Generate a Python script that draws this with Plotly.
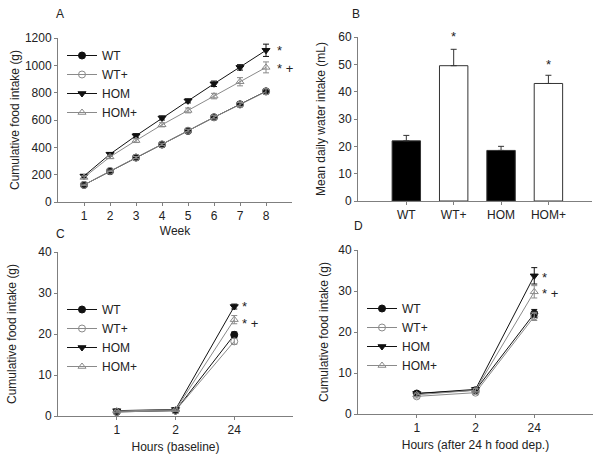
import plotly.graph_objects as go

# ---------------- data ----------------
weeks = [1, 2, 3, 4, 5, 6, 7, 8]
a_wt = [125, 225, 325, 420, 520, 620, 715, 810]
a_wtp = [125, 228, 325, 422, 522, 620, 713, 808]
a_hom = [190, 350, 485, 615, 740, 865, 985, 1110]
a_homp = [180, 330, 450, 565, 670, 775, 880, 985]
a_wt_err = [5, 5, 8, 8, 10, 12, 15, 20]
a_wtp_err = [5, 5, 8, 8, 10, 12, 15, 20]
a_hom_err = [10, 12, 15, 15, 15, 20, 20, 45]
a_homp_err = [10, 12, 15, 15, 18, 20, 30, 40]

groups = ["WT", "WT+", "HOM", "HOM+"]
b_water = [22, 49.5, 18.5, 43]
b_err = [2, 6, 1.5, 3]

hours = ["1", "2", "24"]
c_wt = [1.0, 1.3, 19.8]
c_wtp = [1.0, 1.3, 18.2]
c_hom = [1.3, 1.6, 26.7]
c_homp = [1.2, 1.5, 23.5]
c_wt_err = [0.2, 0.2, 0.7]
c_wtp_err = [0.2, 0.2, 0.7]
c_hom_err = [0.2, 0.2, 0.6]
c_homp_err = [0.2, 0.2, 1.0]

d_wt = [5.0, 5.8, 24.5]
d_wtp = [4.3, 5.2, 23.8]
d_hom = [5.0, 6.0, 33.7]
d_homp = [4.7, 5.8, 29.8]
d_wt_err = [0.4, 0.4, 1.0]
d_wtp_err = [0.4, 0.4, 1.0]
d_hom_err = [0.4, 0.4, 2.0]
d_homp_err = [0.4, 0.4, 1.5]

FONT = "Arial, Liberation Sans, sans-serif"
BLACK = "#111111"
GRAY = "#8a8a8a"
TXT = "#222222"
W, H = 602, 461

series_style = {
    "WT": dict(color=BLACK, symbol="circle", fill=BLACK),
    "WT+": dict(color=GRAY, symbol="circle-open", fill=GRAY),
    "HOM": dict(color=BLACK, symbol="triangle-down", fill=BLACK),
    "HOM+": dict(color=GRAY, symbol="triangle-up-open", fill=GRAY),
}

fig = go.Figure()


def add_series(x, y, err, name, xa, ya, legend):
    st = series_style[name]
    fig.add_trace(go.Scatter(
        x=x, y=y, name=name, mode="lines+markers",
        xaxis=xa, yaxis=ya, legend=legend,
        line=dict(color=st["color"], width=1),
        marker=dict(symbol=st["symbol"], size=7, color=st["fill"],
                    line=dict(color=st["color"], width=1)),
        error_y=dict(type="data", array=err, visible=True,
                     color=st["color"], thickness=1, width=3),
        cliponaxis=False,
    ))


# Panel A
for nm, ys, es in [("WT", a_wt, a_wt_err), ("WT+", a_wtp, a_wtp_err),
                   ("HOM", a_hom, a_hom_err), ("HOM+", a_homp, a_homp_err)]:
    add_series(weeks, ys, es, nm, "x", "y", "legend")

# Panel B
fig.add_trace(go.Bar(
    x=groups, y=b_water, xaxis="x2", yaxis="y2", showlegend=False,
    marker=dict(color=["black", "white", "black", "white"],
                line=dict(color="#333333", width=1)),
    width=0.6,
    error_y=dict(type="data", array=b_err, arrayminus=[0, 0, 0, 0],
                 symmetric=False, visible=True, color="#333333",
                 thickness=1, width=3),
))

# Panel C
xc = [1, 2, 3]
for nm, ys, es in [("WT", c_wt, c_wt_err), ("WT+", c_wtp, c_wtp_err),
                   ("HOM", c_hom, c_hom_err), ("HOM+", c_homp, c_homp_err)]:
    add_series(xc, ys, es, nm, "x3", "y3", "legend2")

# Panel D
for nm, ys, es in [("WT", d_wt, d_wt_err), ("WT+", d_wtp, d_wtp_err),
                   ("HOM", d_hom, d_hom_err), ("HOM+", d_homp, d_homp_err)]:
    add_series(xc, ys, es, nm, "x4", "y4", "legend3")


def px_x(a, b):
    return [a / W, b / W]


def px_y(top, bottom):
    return [1 - bottom / H, 1 - top / H]


axis_common = dict(
    showline=True, linecolor="#7f7f7f", linewidth=1, showgrid=False,
    zeroline=False, ticks="outside", ticklen=3, tickcolor="#7f7f7f",
    tickfont=dict(family=FONT, size=12, color=TXT),
    automargin=False,
)
title_font = dict(family=FONT, size=12, color=TXT)

fig.update_layout(
    width=W, height=H,
    margin=dict(l=0, r=0, t=0, b=0),
    plot_bgcolor="white", paper_bgcolor="white",
    font=dict(family=FONT, size=12, color=TXT),
    xaxis=dict(axis_common, domain=px_x(58, 292), range=[0, 9],
               tickvals=weeks, anchor="y",
               title=dict(text="Week", font=title_font, standoff=4)),
    yaxis=dict(axis_common, domain=px_y(38, 202), range=[0, 1200],
               dtick=200, anchor="x",
               title=dict(text="Cumulative food intake (g)", font=title_font, standoff=2)),
    xaxis2=dict(axis_common, domain=px_x(358, 592), range=[-1.02, 3.92],
                type="category", anchor="y2"),
    yaxis2=dict(axis_common, domain=px_y(37, 201), range=[0, 60],
                dtick=10, anchor="x2",
                title=dict(text="Mean daily water intake (mL)", font=title_font, standoff=10)),
    xaxis3=dict(axis_common, domain=px_x(58, 293), range=[0, 4],
                tickvals=xc, ticktext=hours, anchor="y3",
                title=dict(text="Hours (baseline)", font=title_font, standoff=6)),
    yaxis3=dict(axis_common, domain=px_y(252, 416), range=[0, 40],
                dtick=10, anchor="x3",
                title=dict(text="Cumulative food intake (g)", font=title_font, standoff=19)),
    xaxis4=dict(axis_common, domain=px_x(358, 593), range=[0, 4],
                tickvals=xc, ticktext=hours, anchor="y4",
                title=dict(text="Hours (after 24 h food dep.)", font=title_font, standoff=6)),
    yaxis4=dict(axis_common, domain=px_y(250, 414), range=[0, 40],
                dtick=10, anchor="x4",
                title=dict(text="Cumulative food intake (g)", font=title_font, standoff=7)),
    bargap=0.4,
)

leg_common = dict(font=dict(family=FONT, size=12, color=TXT),
                  bgcolor="rgba(0,0,0,0)", xanchor="left", yanchor="top",
                  tracegroupgap=0, itemwidth=30)
fig.update_layout(
    legend=dict(leg_common, x=62 / W, y=1 - 41 / H),
    legend2=dict(leg_common, x=62 / W, y=1 - 295 / H),
    legend3=dict(leg_common, x=362 / W, y=1 - 294 / H),
)

ann = []
for txt, x, y in [("A", 60, 14), ("B", 356, 14), ("C", 60, 234), ("D", 358, 226)]:
    ann.append(dict(text=txt, x=x / W, y=1 - y / H, xref="paper", yref="paper",
                    showarrow=False, xanchor="center", yanchor="middle",
                    font=dict(family=FONT, size=12, color=TXT)))

star_font = dict(family=FONT, size=13, color=TXT)


def star(text, x, y, xr, yr, xs, ys):
    ann.append(dict(text=text, x=x, y=y, xref=xr, yref=yr, xshift=xs, yshift=ys,
                    showarrow=False, xanchor="left", font=star_font))


# Panel A markers
star("*", 8, a_hom[-1], "x", "y", 9, 0)
star("* +", 8, a_homp[-1], "x", "y", 9, -1)
# Panel B
ann.append(dict(text="*", x="WT+", y=b_water[1] + b_err[1], xref="x2", yref="y2",
                yshift=13, showarrow=False, xanchor="center", font=star_font))
ann.append(dict(text="*", x="HOM+", y=b_water[3] + b_err[3], xref="x2", yref="y2",
                yshift=11, showarrow=False, xanchor="center", font=star_font))
# Panel C
star("*", 3, c_hom[-1], "x3", "y3", 6, 0)
star("* +", 3, c_homp[-1], "x3", "y3", 6, -4)
# Panel D
star("*", 3, d_hom[-1], "x4", "y4", 6, -2)
star("* +", 3, d_homp[-1], "x4", "y4", 6, -2)
fig.update_layout(annotations=ann)

fig.write_html("out.html", config={"displayModeBar": False},
               post_script="document.body.style.margin='0px';")
